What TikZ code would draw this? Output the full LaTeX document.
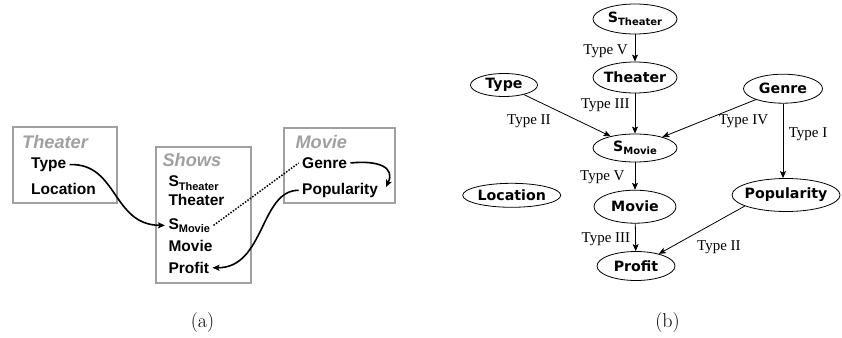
\documentclass[tikz,border=0pt]{standalone}
\usepackage{fontspec}
\usetikzlibrary{shapes.geometric,arrows.meta}
\newfontfamily\arialf{Liberation Sans}
\newfontfamily\dejavuf{DejaVu Sans}
\newfontfamily\timesf{Liberation Serif}
\definecolor{boxgray}{RGB}{160,160,160}
\newcommand{\subA}[1]{S\raisebox{-3.5pt}{\fontsize{11}{11}\selectfont #1}}
\newcommand{\subB}[1]{S\raisebox{-3pt}{\fontsize{10}{10}\selectfont #1}}
\newcommand{\nm}[1]{\makebox[0pt]{#1}}

\begin{document}
\begin{tikzpicture}[x=1pt,y=-1pt,line width=1pt,
  attr/.style={anchor=base west,inner xsep=3pt,inner ysep=0pt,font=\arialf\bfseries\fontsize{15.5}{18}\selectfont},
  reltitle/.style={anchor=base west,inner sep=0pt,text=boxgray,font=\arialf\bfseries\itshape\fontsize{18.2}{20}\selectfont},
  relbox/.style={draw=boxgray,line width=1.8pt},
  var/.style={ellipse,draw,line width=.8pt,inner sep=0pt,font=\dejavuf\bfseries\fontsize{14.2}{16}\selectfont},
  dep/.style={anchor=base west,inner sep=0pt,font=\timesf\fontsize{15}{17}\selectfont},
  tipA/.style={-{Stealth[length=7pt,width=6pt,inset=1.5pt]},line width=1.6pt},
  tipB/.style={-{Stealth[length=7pt,width=6pt,inset=1.5pt]},line width=.8pt}]
\useasboundingbox (0,0) rectangle (842,337);
% (a) relations
\draw[relbox] (13,127) rectangle (117,203);
\draw[relbox] (156,147) rectangle (251,283);
\draw[relbox] (284,128) rectangle (395,203);
\node[reltitle] (a-theater-t) at (21.7,148.3) {Theater};
\node[reltitle] (a-shows-t) at (162,166) {Shows};
\node[reltitle] (a-movie-t) at (295,148.3) {Movie};
\node[attr] (a-type) at (27.7,168.3) {Type};
\node[attr] (a-location) at (27.7,194.3) {Location};
\node[attr] (a-stheater) at (165,186.7) {\subA{Theater}};
\node[attr] (a-theater) at (165,205.7) {Theater};
\node[attr] (a-smovie) at (165,229) {\subA{Movie}};
\node[attr] (a-movie) at (165,251.3) {Movie};
\node[attr] (a-profit) at (165,273.3) {Profit};
\node[attr] (a-genre) at (298.7,168.3) {Genre};
\node[attr] (a-popularity) at (298.7,194.3) {Popularity};
\coordinate (a-popend) at (386,187);
\draw[tipA] (a-type.east) .. controls (118,163) and (112,225) .. (a-smovie.west);
\draw[tipA] (a-genre.east) .. controls (380,160) and (395,168) .. (a-popend);
\draw[tipA] (a-popularity.west) .. controls (260,190) and (265,268) .. (a-profit.east);
\draw[line width=1.5pt,dash pattern=on 1.5pt off 1.5pt] (a-smovie.east) -- (a-genre.west);
\node[anchor=base,font=\fontsize{20}{22}\selectfont] (cap-a) at (202.5,327) {(a)};
% (b) dependency graph
\node[var,minimum width=84,minimum height=30] (stheater) at (635,19) {\nm{\subB{Theater}}};
\node[var,minimum width=84,minimum height=31] (theater) at (635,77.5) {\nm{Theater}};
\node[var,minimum width=67,minimum height=23] (type) at (504,85) {\nm{Type}};
\node[var,minimum width=79,minimum height=29] (genre) at (783,88.7) {\nm{Genre}};
\node[var,minimum width=84,minimum height=28] (smovie) at (635,148) {\nm{\subB{Movie}}};
\node[var,minimum width=98,minimum height=24] (location) at (511.7,195.3) {\nm{Location}};
\node[var,minimum width=108,minimum height=33] (popularity) at (786,195) {\nm{Popularity}};
\node[var,minimum width=82,minimum height=33] (movie) at (635,206.7) {\nm{Movie}};
\node[var,minimum width=78,minimum height=29] (profit) at (636,266) {\nm{Profit}};
\draw[tipB] (stheater) -- (theater);
\draw[tipB] (theater) -- (smovie);
\draw[tipB] (type) -- (smovie);
\draw[tipB] (genre) -- (smovie);
\draw[tipB] (genre.south) -- (genre |- popularity.north);
\draw[tipB] (smovie) -- (movie);
\draw[tipB] (movie) -- (profit);
\draw[tipB] (popularity.195) -- (profit.28);
\node[dep,anchor=base east] (l-st) at (628.3,55) {Type V};
\node[dep,anchor=base east] (l-th) at (630,108) {Type III};
\node[dep] (l-ty) at (506.7,124) {Type II};
\node[dep] (l-ge) at (718.3,124) {Type IV};
\node[dep] (l-gp) at (788.3,137) {Type I};
\node[dep,anchor=base east] (l-sm) at (625,180.5) {Type V};
\node[dep,anchor=base east] (l-mo) at (630.7,242) {Type III};
\node[dep] (l-po) at (696.7,250.5) {Type II};
\node[anchor=base,font=\fontsize{20}{22}\selectfont] (cap-b) at (667.5,327) {(b)};
\end{tikzpicture}
\end{document}
